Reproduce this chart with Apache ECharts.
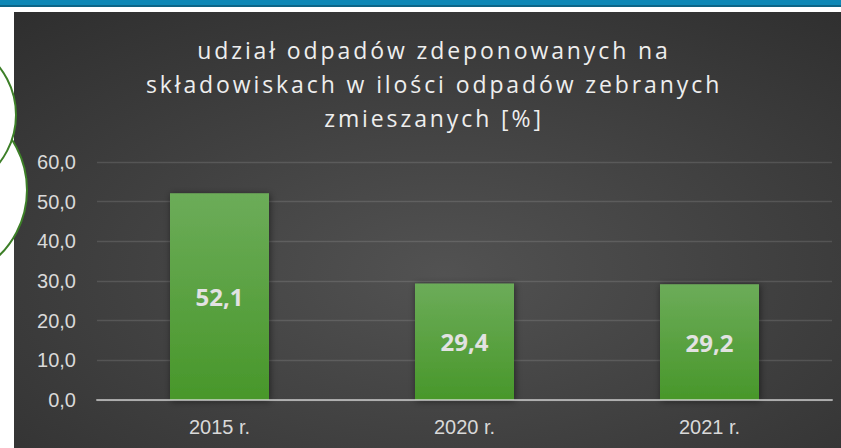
<!DOCTYPE html>
<html>
<head>
<meta charset="utf-8">
<script src="https://cdn.jsdelivr.net/npm/echarts@6/dist/echarts.min.js"></script>
<style>
  html, body { margin: 0; padding: 0; background: #ffffff; }
  #chart { width: 841px; height: 448px; }
  /* wide tracking for the title lines */
  #chart text[style*="Open Sans"] { letter-spacing: 2.9px; }
</style>
</head>
<body>
<div id="chart"></div>
<script>
// chart data
const categories = ['2015 r.', '2020 r.', '2021 r.'];
const shareValues = [52.1, 29.4, 29.2];
const yMin = 0;
const yMax = 60;
const yStep = 10;
const titleLines = [
  'udział odpadów zdeponowanych na',
  'składowiskach w ilości odpadów zebranych',
  'zmieszanych [%]'
];

const fmt = v => Number(v).toFixed(1).replace('.', ',');

const chart = echarts.init(document.getElementById('chart'), null, { renderer: 'svg' });

chart.setOption({
  backgroundColor: '#ffffff',
  animation: false,
  title: {
    text: titleLines.join('\n'),
    left: 434,
    top: 33,
    padding: 0,
    textAlign: 'center',
    textStyle: {
      fontFamily: 'Open Sans',
      fontSize: 23,
      fontWeight: 'normal',
      color: '#eeeeee',
      lineHeight: 34
    }
  },
  graphic: {
    elements: [
      // header strip
      { type: 'rect', z: -10, shape: { x: 0, y: 0, width: 841, height: 5 }, style: { fill: '#0f88b6' } },
      { type: 'rect', z: -10, shape: { x: 0, y: 5, width: 841, height: 2 }, style: { fill: '#0d6688' } },
      // dark panel behind the plot
      {
        type: 'rect', z: -9,
        shape: { x: 14, y: 12, width: 827, height: 436 },
        style: {
          fill: new echarts.graphic.RadialGradient(0.52, 0.6, 1.0, [
            { offset: 0, color: '#525252' },
            { offset: 1, color: '#252525' }
          ])
        }
      },
      // decorative rings on the left edge
      { type: 'circle', z: -8, shape: { cx: -64, cy: 190, r: 91 }, style: { fill: '#ffffff', stroke: '#3d7f28', lineWidth: 2 } },
      { type: 'circle', z: -7, shape: { cx: -61, cy: 115, r: 77 }, style: { fill: '#ffffff', stroke: '#3d7f28', lineWidth: 2 } }
    ]
  },
  grid: { left: 97, right: 9, top: 162, bottom: 48 },
  xAxis: {
    type: 'category',
    data: categories,
    z: 3,
    axisTick: { show: false },
    axisLine: { lineStyle: { color: 'rgba(222,222,222,0.65)', width: 2 } },
    axisLabel: {
      color: '#d9d9d9',
      fontSize: 20,
      fontFamily: 'Liberation Sans',
      margin: 17
    }
  },
  yAxis: {
    type: 'value',
    min: yMin,
    max: yMax,
    interval: yStep,
    axisLine: { show: false },
    axisTick: { show: false },
    axisLabel: {
      color: '#d9d9d9',
      fontSize: 20,
      fontFamily: 'Liberation Sans',
      margin: 21,
      formatter: fmt
    },
    splitLine: { lineStyle: { color: 'rgba(255,255,255,0.12)', width: 1.3 } }
  },
  series: [{
    type: 'bar',
    data: shareValues,
    barWidth: 99,
    itemStyle: {
      color: new echarts.graphic.LinearGradient(0, 0, 0, 1, [
        { offset: 0, color: '#6cac59' },
        { offset: 1, color: '#48972a' }
      ]),
      shadowColor: 'rgba(0,0,0,0.5)',
      shadowBlur: 7,
      shadowOffsetX: 1,
      shadowOffsetY: 1
    },
    label: {
      show: true,
      position: 'inside',
      formatter: p => fmt(p.value),
      color: '#e2e2e2',
      fontFamily: 'Noto Sans',
      fontWeight: 'bold',
      fontSize: 24
    }
  }]
});
</script>
</body>
</html>
